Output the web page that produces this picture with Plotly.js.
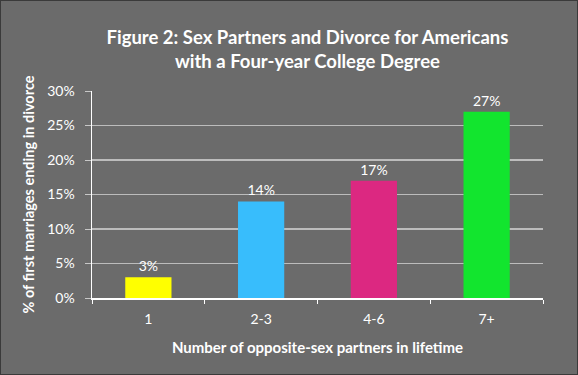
<!DOCTYPE html>
<html><head><meta charset="utf-8">
<script src="https://cdn.plot.ly/plotly-3.0.1.min.js"></script>
<style>
html,body{margin:0;padding:0;background:#6b6b6b;}
#chart{width:578px;height:375px;box-sizing:border-box;border:1px solid #3a3a3a;}
</style>
</head><body>
<div id="chart"></div>
<script>
const categories = ["1", "2-3", "4-6", "7+"];
const divorcePct = [3, 14, 17, 27];
const barColors = ["#ffff00", "#38bdfc", "#dc2881", "#12e52e"];
const yTickVals = [0, 5, 10, 15, 20, 25, 30];
const yTickText = ["0%", "5%", "10%", "15%", "20%", "25%", "30%"];

const fontFam = "Lato, 'Open Sans', sans-serif";
const trace = {
  type: "bar",
  x: categories,
  y: divorcePct,
  marker: {color: barColors, line: {width: 0}},
  text: divorcePct.map(v => v + "%"),
  textposition: "outside",
  cliponaxis: false,
  textfont: {color: "#ffffff", size: 14, family: fontFam},
  hoverinfo: "none"
};
const layout = {
  width: 576, height: 373,
  paper_bgcolor: "#6b6b6b",
  plot_bgcolor: "#6b6b6b",
  margin: {l: 91, r: 34, t: 90, b: 76},
  bargap: 0.59,
  showlegend: false,
  font: {family: fontFam, color: "#ffffff"},
  title: {
    text: "<b>Figure 2: Sex Partners and Divorce for Americans<br>with a Four-year College Degree</b>",
    font: {size: 18.5, color: "#ffffff", family: fontFam},
    x: 0.532, xanchor: "center", y: 0.885, yanchor: "top"
  },
  xaxis: {
    type: "category",
    showline: true, linecolor: "#ffffff", linewidth: 1.5,
    ticks: "outside", ticklen: 4, tickcolor: "#ffffff", tickson: "boundaries",
    tickfont: {size: 14, color: "#ffffff", family: fontFam},
    ticklabelstandoff: 8,
    showgrid: false,
    title: {text: "<b>Number of opposite-sex partners in lifetime</b>", font: {size: 15, color: "#ffffff", family: fontFam}, standoff: 16}
  },
  yaxis: {
    range: [0, 30],
    tickvals: yTickVals, ticktext: yTickText,
    showline: true, linecolor: "#ffffff", linewidth: 1.5,
    ticks: "outside", ticklen: 6, tickcolor: "#c8c8c8",
    tickfont: {size: 14, color: "#ffffff", family: fontFam},
    ticklabelstandoff: 7,
    showgrid: true, gridcolor: "#bcbcbc", gridwidth: 1.5,
    zeroline: false,
    title: {text: "<b>% of first marriages ending in divorce</b>", font: {size: 14.5, color: "#ffffff", family: fontFam}, standoff: 9}
  }
};
Plotly.newPlot("chart", [trace], layout, {displayModeBar: false, staticPlot: true});
</script>
</body></html>
